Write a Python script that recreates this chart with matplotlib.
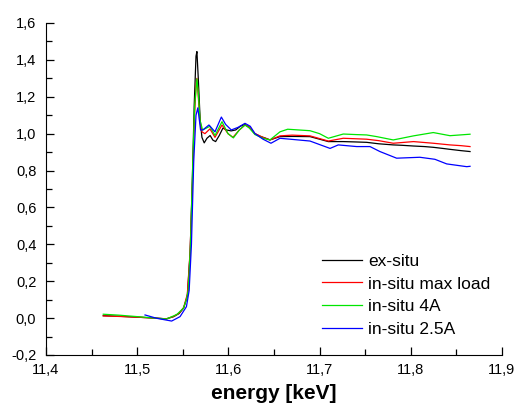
import numpy as np
import matplotlib
matplotlib.use('Agg')
import matplotlib.pyplot as plt
from matplotlib.ticker import MultipleLocator, FuncFormatter

plt.rcParams['font.family'] = ['Liberation Sans', 'DejaVu Sans']
plt.rcParams['axes.unicode_minus'] = False

# ex-situ
e_ex = [11.4628, 11.48, 11.50, 11.52, 11.532, 11.540, 11.546, 11.551, 11.555, 11.558,
        11.5605, 11.5625, 11.5645, 11.5655, 11.567, 11.569, 11.571, 11.5735, 11.5765, 11.580,
        11.583, 11.586, 11.590, 11.594, 11.598, 11.603, 11.608, 11.613, 11.618, 11.623,
        11.629, 11.635, 11.641, 11.6456, 11.651, 11.6566, 11.67, 11.6895, 11.70, 11.7096,
        11.726, 11.74, 11.7516, 11.765, 11.7808, 11.79, 11.803, 11.815, 11.8247, 11.835,
        11.843, 11.855, 11.865]
y_ex = [0.013, 0.010, 0.005, 0.000, -0.004, 0.008, 0.025, 0.055, 0.12, 0.35,
        0.75, 1.15, 1.42, 1.445, 1.30, 1.08, 0.98, 0.95, 0.975, 0.99,
        0.965, 0.957, 0.99, 1.03, 1.02, 1.015, 1.02, 1.04, 1.05, 1.035,
        1.0, 0.985, 0.975, 0.966, 0.975, 0.984, 0.985, 0.984, 0.97, 0.957,
        0.957, 0.955, 0.953, 0.945, 0.939, 0.937, 0.933, 0.93, 0.926, 0.92,
        0.915, 0.908, 0.903]

# in-situ max load
e_max = [11.4628, 11.48, 11.50, 11.52, 11.532, 11.540, 11.546, 11.551, 11.555, 11.558,
         11.5605, 11.5625, 11.5645, 11.5655, 11.567, 11.569, 11.571, 11.5743, 11.5798, 11.5853,
         11.593, 11.5996, 11.605, 11.612, 11.6182, 11.623, 11.6292, 11.638, 11.6456, 11.6566,
         11.67, 11.6895, 11.7096, 11.726, 11.7516, 11.765, 11.7808, 11.803, 11.8247, 11.843,
         11.855, 11.865]
y_max = [0.012, 0.009, 0.005, 0.000, -0.004, 0.009, 0.027, 0.058, 0.13, 0.36,
         0.72, 1.05, 1.26, 1.30, 1.20, 1.06, 1.01, 1.0, 1.026, 0.98,
         1.047, 1.0, 0.98, 1.02, 1.047, 1.035, 1.0, 0.98, 0.966, 0.988,
         0.992, 0.988, 0.96, 0.975, 0.97, 0.962, 0.948, 0.957, 0.948, 0.939,
         0.935, 0.93]

# in-situ 4A
e_4a = [11.4628, 11.48, 11.50, 11.52, 11.532, 11.540, 11.5435, 11.5506, 11.554, 11.556,
        11.5585, 11.561, 11.563, 11.5655, 11.567, 11.569, 11.5717, 11.5798, 11.5853, 11.593,
        11.5996, 11.6055, 11.612, 11.6182, 11.623, 11.6292, 11.638, 11.6456, 11.6566, 11.665,
        11.6895, 11.70, 11.7096, 11.726, 11.74, 11.7516, 11.7626, 11.7808, 11.79, 11.803,
        11.8247, 11.843, 11.865]
y_4a = [0.021, 0.016, 0.008, 0.000, -0.005, 0.012, 0.02, 0.053, 0.10, 0.15,
        0.40, 0.85, 1.15, 1.297, 1.22, 1.07, 1.02, 1.04, 0.99, 1.065,
        1.0, 0.977, 1.02, 1.047, 1.03, 0.995, 0.975, 0.966, 1.01, 1.024,
        1.016, 1.0, 0.975, 0.998, 0.995, 0.993, 0.984, 0.966, 0.975, 0.988,
        1.006, 0.989, 0.997]

# in-situ 2.5A
e_25a = [11.5086, 11.5213, 11.5378, 11.547, 11.554, 11.557, 11.5595, 11.562, 11.5645, 11.5665,
         11.568, 11.5695, 11.572, 11.5787, 11.5853, 11.5923, 11.597, 11.6032, 11.611, 11.6182,
         11.624, 11.6292, 11.638, 11.6467, 11.6566, 11.6895, 11.7115, 11.7205, 11.7407, 11.7553,
         11.7662, 11.7845, 11.81, 11.8265, 11.8394, 11.8614, 11.865]
y_25a = [0.017, -0.001, -0.016, 0.008, 0.062, 0.15, 0.40, 0.85, 1.10, 1.14,
         1.08, 1.02, 1.02, 1.047, 1.01, 1.09, 1.05, 1.02, 1.035, 1.056,
         1.04, 1.0, 0.97, 0.948, 0.975, 0.96, 0.92, 0.939, 0.93, 0.93,
         0.903, 0.867, 0.872, 0.861, 0.836, 0.821, 0.823]

fig = plt.figure(figsize=(5.18, 4.15), dpi=100)
ax = fig.add_axes([0.0888, 0.1446, 0.8802, 0.8])

lw = 0.9
ax.plot(e_ex, y_ex, color='black', lw=lw, label='ex-situ')
ax.plot(e_max, y_max, color='#ff0000', lw=lw, label='in-situ max load')
ax.plot(e_4a, y_4a, color='#00e600', lw=lw, label='in-situ 4A')
ax.plot(e_25a, y_25a, color='#0000ff', lw=lw, label='in-situ 2.5A')

ax.set_xlim(11.4, 11.9)
ax.set_ylim(-0.2, 1.6)
ax.xaxis.set_major_locator(MultipleLocator(0.1))
ax.xaxis.set_minor_locator(MultipleLocator(0.05))
ax.yaxis.set_major_locator(MultipleLocator(0.2))
ax.yaxis.set_minor_locator(MultipleLocator(0.1))
ax.xaxis.set_major_formatter(FuncFormatter(lambda v, p: ('%.1f' % v).replace('.', ',')))
ax.yaxis.set_major_formatter(FuncFormatter(lambda v, p: ('%.1f' % v).replace('.', ',')))

for s in ['top', 'right']:
    ax.spines[s].set_visible(False)
ax.tick_params(which='major', direction='in', length=6, width=0.9, labelsize=10.5, pad=7)
ax.tick_params(which='minor', direction='in', length=4, width=0.9)
ax.tick_params(axis='x', which='major', pad=6)

ax.set_xlabel('energy [keV]', fontsize=15, fontweight='bold', labelpad=5)

ax.legend(loc='upper left', bbox_to_anchor=(0.605, 0.305), frameon=False, fontsize=12.5,
          handlelength=2.3, handletextpad=0.35, labelspacing=0.43,
          borderpad=0, borderaxespad=0)

fig.savefig('out.png', dpi=100)
